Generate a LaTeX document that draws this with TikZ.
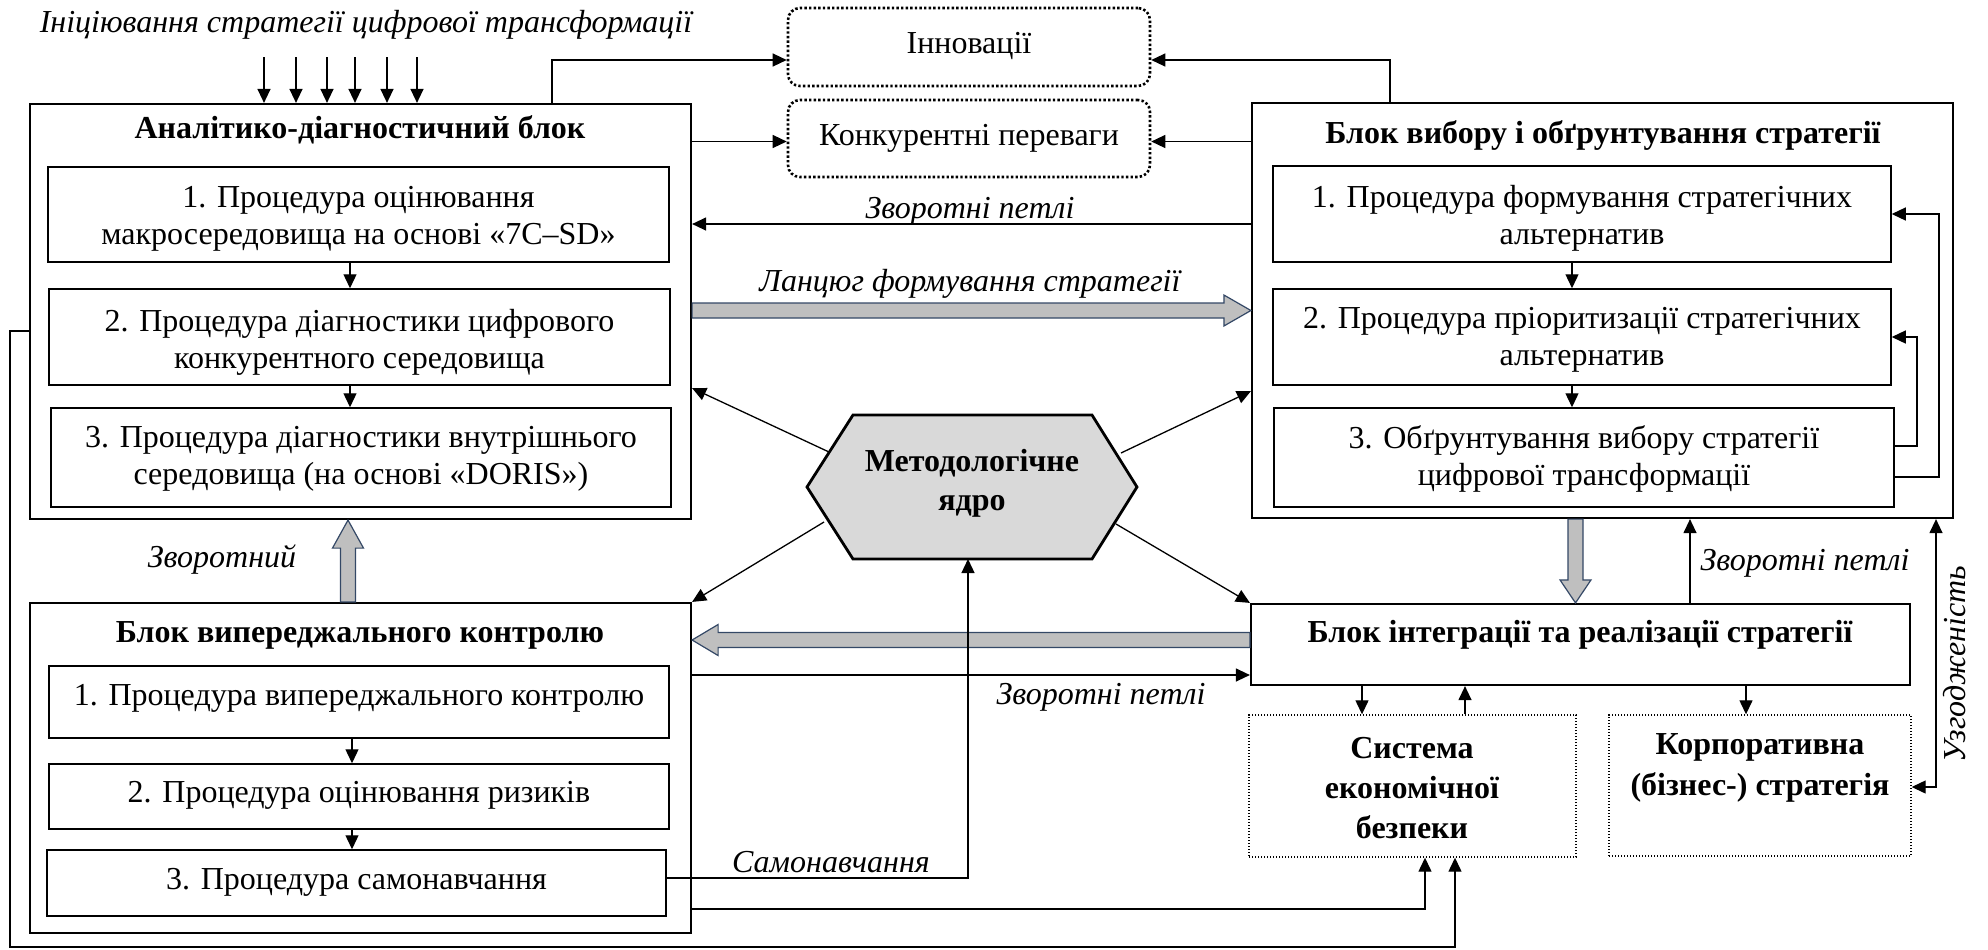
\documentclass[tikz,border=0pt]{standalone}
\usepackage{fontspec}
\setmainfont{Liberation Serif}
\usetikzlibrary{arrows.meta,fit,calc}
\definecolor{fatfill}{RGB}{191,191,191}
\definecolor{fatline}{RGB}{52,72,102}
\definecolor{corefill}{RGB}{217,217,217}
\begin{document}
\begin{tikzpicture}[x=0.5pt,y=-0.5pt,
  font=\fontsize{16}{18.5}\selectfont,
  obox/.style={draw, line width=1.1pt, inner sep=0pt},
  ibox/.style={draw, line width=0.75pt, inner sep=0pt},
  dbox/.style={draw, line width=1.3pt, dash pattern=on 1.2pt off 1.1pt, rounded corners=6pt, inner sep=0pt},
  sbox/.style={draw, line width=0.7pt, dash pattern=on 0.7pt off 0.8pt, inner sep=0pt},
  txt/.style={inner sep=0pt, align=center},
  ttl/.style={font=\fontsize{16}{19.5}\selectfont\bfseries, inner sep=0pt, align=center},
  lbl/.style={font=\fontsize{16}{18.5}\selectfont\itshape, inner sep=0pt},
  ln/.style={line width=0.65pt},
  arr/.style={ln, -{Triangle[length=7pt,width=6.5pt]}},
  darr/.style={ln, {Triangle[length=7pt,width=6.5pt]}-{Triangle[length=7pt,width=6.5pt]}},
  fat/.style={fill=fatfill, draw=fatline, line width=0.6pt, line join=miter},
]
\useasboundingbox (0,0) rectangle (1988,949);

% ---------- analytic and diagnostic block ----------
\node[obox, fit={(30,104) (691,519)}] (A) {};
\node[ttl] (At) at (360,130) {Аналітико-діагностичний блок};
\node[ibox, fit={(48,167) (669,262)}] (A1) {};
\node[txt] (A1t) at ($(A1.center)+(0,4)$) {1. Процедура оцінювання\\макросередовища на основі «7C–SD»};
\node[ibox, fit={(49,289) (670,385)}] (A2) {};
\node[txt] (A2t) at ($(A2.center)+(0,5)$) {2. Процедура діагностики цифрового\\конкурентного середовища};
\node[ibox, fit={(51,408) (671,507)}] (A3) {};
\node[txt] (A3t) at ($(A3.center)+(0,1.5)$) {3. Процедура діагностики внутрішнього\\середовища (на основі «DORIS»)};

% ---------- strategy choice block ----------
\node[obox, fit={(1252,103) (1953,518)}] (B) {};
\node[ttl] (Bt) at (1603,135) {Блок вибору і обґрунтування стратегії};
\node[ibox, fit={(1273,166) (1891,262)}] (B1) {};
\node[txt] (B1t) at ($(B1.center)+(0,4)$) {1. Процедура формування стратегічних\\альтернатив};
\node[ibox, fit={(1273,289) (1891,385)}] (B2) {};
\node[txt] (B2t) at ($(B2.center)+(0,3)$) {2. Процедура пріоритизації стратегічних\\альтернатив};
\node[ibox, fit={(1274,408) (1894,507)}] (B3) {};
\node[txt] (B3t) at ($(B3.center)+(0,1)$) {3. Обґрунтування вибору стратегії\\цифрової трансформації};

% ---------- integration block ----------
\node[obox, fit={(1251,604) (1910,685)}] (C) {};
\node[ttl] (Ct) at (1580,635) {Блок інтеграції та реалізації стратегії};

% ---------- proactive control block ----------
\node[obox, fit={(30,603) (691,933)}] (D) {};
\node[ttl] (Dt) at (360,635) {Блок випереджального контролю};
\node[ibox, fit={(49,666) (669,738)}] (D1) {};
\node[txt] (D1t) at ($(D1.center)+(0,-4)$) {1. Процедура випереджального контролю};
\node[ibox, fit={(49,764) (669,829)}] (D2) {};
\node[txt] (D2t) at ($(D2.center)+(0,-1)$) {2. Процедура оцінювання ризиків};
\node[ibox, fit={(47,850) (666,916)}] (D3) {};
\node[txt] (D3t) at ($(D3.center)+(0,-1)$) {3. Процедура самонавчання};

% ---------- outcome boxes ----------
\node[dbox, fit={(788,8) (1150,86)}] (I) {};
\node[txt] (It) at (969,46) {Інновації};
\node[dbox, fit={(788,100) (1150,177)}] (K) {};
\node[txt] (Kt) at (969,138) {Конкурентні переваги};

\node[sbox, fit={(1249,715) (1576,857)}] (S) {};
\node[ttl, font=\fontsize{16}{20}\selectfont\bfseries] (St) at (1412,788) {Система\\економічної\\безпеки};
\node[sbox, fit={(1609,715) (1911,856)}] (P) {};
\node[ttl, font=\fontsize{16}{20.5}\selectfont\bfseries] (Pt) at (1760,768) {Корпоративна\\(бізнес-) стратегія};

% ---------- methodological core ----------
\coordinate (h1) at (807,487);
\coordinate (h2) at (853,415);
\coordinate (h3) at (1092,415);
\coordinate (h4) at (1137,487);
\coordinate (h5) at (1092,559);
\coordinate (h6) at (853,559);
\draw[fill=corefill, line width=1.4pt, line join=miter] (h1) -- (h2) -- (h3) -- (h4) -- (h5) -- (h6) -- cycle;
\node[ttl] (core) at (972,483) {Методологічне\\ядро};

% ---------- labels ----------
\node[lbl] (init) at (366,25) {Ініціювання стратегії цифрової трансформації};
\node[lbl] (fbtop) at (970,211) {Зворотні петлі};
\node[lbl] (chain) at (970,284) {Ланцюг формування стратегії};
\node[lbl] (fbback) at (222,560) {Зворотний};
\node[lbl] (fbmid) at (1101,697) {Зворотні петлі};
\node[lbl] (selfl) at (831,862) {Самонавчання};
\node[lbl] (fbright) at (1805,563) {Зворотні петлі};
\node[lbl, rotate=90] (agree) at (1955,664) {Узгодженість};

% ---------- initiation inputs ----------
\foreach \x [count=\i] in {264,296,327,355,387,417} {
  \coordinate (in\i) at (\x,57);
  \draw[arr] (in\i) -- (in\i |- A.north);
}

% ---------- inner sequences ----------
\coordinate (ax) at (350,0);
\draw[arr] (A1.south -| ax) -- (A2.north -| ax);
\draw[arr] (A2.south -| ax) -- (A3.north -| ax);
\coordinate (bx) at (1572,0);
\draw[arr] (B1.south -| bx) -- (B2.north -| bx);
\draw[arr] (B2.south -| bx) -- (B3.north -| bx);
\coordinate (dx) at (352,0);
\draw[arr] (D1.south -| dx) -- (D2.north -| dx);
\draw[arr] (D2.south -| dx) -- (D3.north -| dx);

% loops inside the choice block
\coordinate (l1) at (1917,446);
\coordinate (l2) at (1939,477);
\draw[arr] (B3.east |- l1) -- (l1) -- (l1 |- B2.east) -- (B2.east);
\draw[arr] (B3.east |- l2) -- (l2) -- (l2 |- B1.east) -- (B1.east);

% ---------- to innovations and advantages ----------
\coordinate (ai) at (552,60);
\draw[arr] (ai |- A.north) -- (ai) -- (ai -| I.west);
\coordinate (bi) at (1390,60);
\draw[arr] (bi |- B.north) -- (bi) -- (bi -| I.east);
\coordinate (ak) at ($(K.west)+(0,3)$);
\draw[arr] (A.east |- ak) -- (ak);
\coordinate (bk) at ($(K.east)+(0,3)$);
\draw[arr] (B.west |- bk) -- (bk);

% feedback from choice block to analytics
\coordinate (fb1) at (970,224);
\draw[arr] (B.west |- fb1) -- (A.east |- fb1);

% ---------- strategy chain (wide arrows) ----------
\coordinate (fa) at (A.east |- B.west);
\draw[fat] ($(fa)+(0,-7.5)$) -- ($(B.west)+(-27,-7.5)$) -- ($(B.west)+(-27,-15.5)$)
  -- (B.west) -- ($(B.west)+(-27,15.5)$) -- ($(B.west)+(-27,7.5)$) -- ($(fa)+(0,7.5)$) -- cycle;

\coordinate (fbt) at ($(C.north)+(-5,0)$);
\coordinate (fbs) at (fbt |- B.south);
\draw[fat] ($(fbs)+(-7.5,0)$) -- ($(fbt)+(-7.5,-23)$) -- ($(fbt)+(-15.5,-23)$) -- (fbt)
  -- ($(fbt)+(15.5,-23)$) -- ($(fbt)+(7.5,-23)$) -- ($(fbs)+(7.5,0)$) -- cycle;

\coordinate (fc) at ($(C.west)+(0,-4.5)$);
\coordinate (fd) at (D.east |- fc);
\draw[fat] ($(fc)+(0,-7.5)$) -- ($(fd)+(26,-7.5)$) -- ($(fd)+(26,-15.5)$) -- (fd)
  -- ($(fd)+(26,15.5)$) -- ($(fd)+(26,7.5)$) -- ($(fc)+(0,7.5)$) -- cycle;

\coordinate (fda) at (348,0);
\coordinate (fdt) at (fda |- A.south);
\coordinate (fdb) at (fda |- D.north);
\draw[fat] ($(fdb)+(-7.5,0)$) -- ($(fdt)+(-7.5,28)$) -- ($(fdt)+(-15.5,28)$) -- (fdt)
  -- ($(fdt)+(15.5,28)$) -- ($(fdt)+(7.5,28)$) -- ($(fdb)+(7.5,0)$) -- cycle;

% ---------- methodological core links ----------
\coordinate (hul) at (829,452);
\coordinate (hur) at (1121,453);
\coordinate (hll) at (824,522);
\coordinate (hlr) at (1116,524);
\draw[arr] (hul) -- ($(A.south east)+(0,-132)$);
\draw[arr] (hur) -- ($(B.south west)+(0,-128)$);
\draw[arr] (hll) -- (D.north east);
\draw[arr] (hlr) -- (C.north west);

% self-learning back to the core
\coordinate (sm) at (968,878);
\draw[arr] (D3.east |- sm) -- (sm) -- (sm |- h5);

% ---------- integration block links ----------
\coordinate (dc) at (1100,675);
\draw[arr] (D.east |- dc) -- (C.west |- dc);
\coordinate (cb) at (1690,560);
\draw[arr] (C.north -| cb) -- (B.south -| cb);
\coordinate (cs1) at (1362,700);
\coordinate (cs2) at (1465,700);
\coordinate (cp) at (1746,700);
\draw[arr] (C.south -| cs1) -- (S.north -| cs1);
\draw[arr] (S.north -| cs2) -- (C.south -| cs2);
\draw[arr] (C.south -| cp) -- (P.north -| cp);
\coordinate (uz) at (1936,787);
\draw[darr] (B.south -| uz) -- (uz) -- (uz -| P.east);

% ---------- links to economic security ----------
\coordinate (ds) at (1425,909);
\draw[arr] (D.east |- ds) -- (ds) -- (ds |- S.south);
\coordinate (o1) at (10,331);
\coordinate (o2) at (1455,947);
\draw[arr] (A.west |- o1) -- (o1) -- (o1 |- o2) -- (o2) -- (o2 |- S.south);

\end{tikzpicture}
\end{document}
